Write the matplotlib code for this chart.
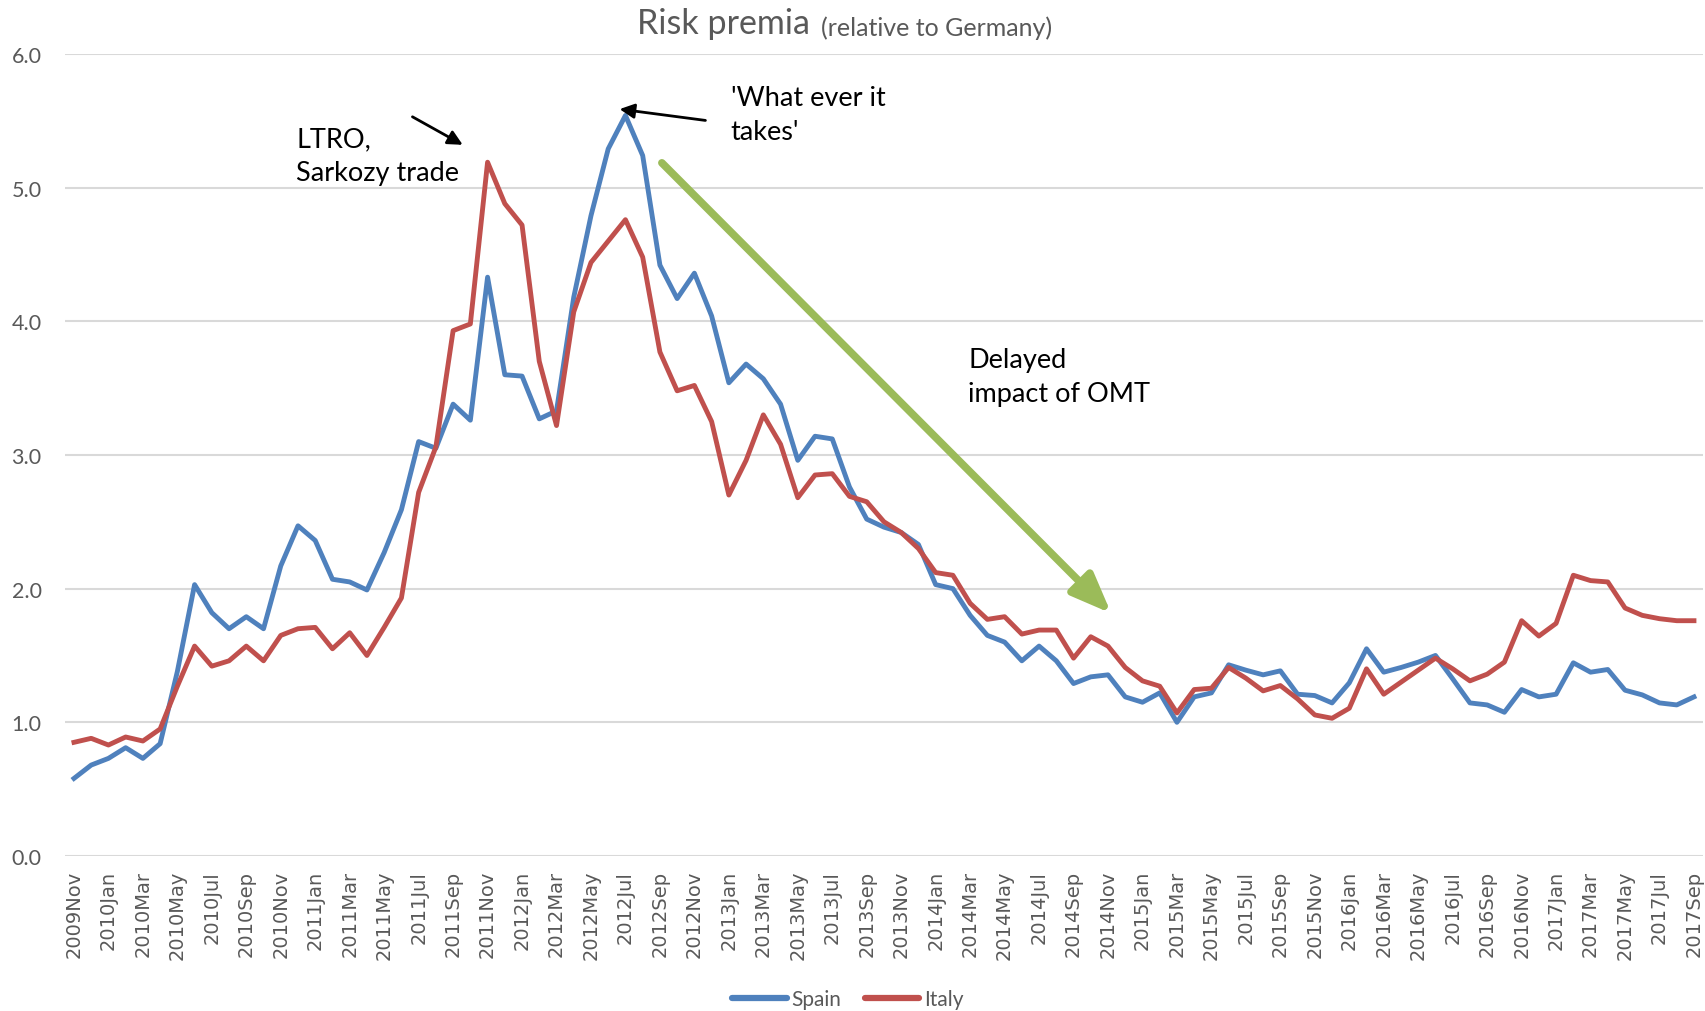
import matplotlib.pyplot as plt
import matplotlib.patheffects as pe
from matplotlib.ticker import FormatStrFormatter
import numpy as np
import pandas as pd

plt.rcParams['font.family'] = ['Lato', 'DejaVu Sans']

# Monatsreihe 2009Nov .. 2017Sep
months = pd.date_range('2009-11-01', '2017-09-01', freq='MS')
month_labels = [d.strftime('%Y%b') for d in months]

spain = [0.58, 0.68, 0.73, 0.81, 0.73, 0.84, 1.38, 2.03, 1.82, 1.70,
         1.79, 1.70, 2.17, 2.47, 2.36, 2.07, 2.05, 1.99, 2.27, 2.59,
         3.10, 3.05, 3.38, 3.26, 4.33, 3.60, 3.59, 3.27, 3.33, 4.18,
         4.79, 5.29, 5.54, 5.24, 4.42, 4.17, 4.36, 4.04, 3.54, 3.68,
         3.57, 3.38, 2.96, 3.14, 3.12, 2.76, 2.52, 2.46, 2.42, 2.33,
         2.03, 2.00, 1.80, 1.65, 1.60, 1.46, 1.57, 1.46, 1.29, 1.34,
         1.355, 1.19, 1.15, 1.22, 1.00, 1.19, 1.22, 1.43, 1.39, 1.355,
         1.385, 1.21, 1.20, 1.145, 1.295, 1.55, 1.375, 1.41, 1.45, 1.50,
         1.325, 1.145, 1.13, 1.075, 1.245, 1.19, 1.21, 1.445, 1.375, 1.395,
         1.24, 1.205, 1.145, 1.13, 1.19]

italy = [0.85, 0.88, 0.83, 0.89, 0.86, 0.95, 1.27, 1.57, 1.42, 1.46,
         1.57, 1.46, 1.65, 1.70, 1.71, 1.55, 1.67, 1.50, 1.71, 1.93,
         2.72, 3.06, 3.93, 3.98, 5.19, 4.88, 4.72, 3.70, 3.22, 4.07,
         4.44, 4.60, 4.76, 4.48, 3.77, 3.48, 3.52, 3.25, 2.70, 2.96,
         3.30, 3.08, 2.68, 2.85, 2.86, 2.69, 2.65, 2.50, 2.42, 2.30,
         2.12, 2.10, 1.89, 1.77, 1.79, 1.66, 1.69, 1.69, 1.48, 1.64,
         1.57, 1.41, 1.31, 1.27, 1.07, 1.245, 1.255, 1.41, 1.33, 1.235,
         1.275, 1.175, 1.055, 1.03, 1.105, 1.40, 1.21, 1.30, 1.39, 1.48,
         1.40, 1.31, 1.36, 1.45, 1.76, 1.645, 1.74, 2.10, 2.06, 2.05,
         1.855, 1.80, 1.775, 1.76, 1.76]

GRAY = '#595959'
BLUE = '#4F81BD'
RED = '#C0504D'
GREEN = '#9BBB59'

fig = plt.figure(figsize=(17.06, 10.12), dpi=100, facecolor='white')
ax = fig.add_axes([0.0383, 0.1532, 0.9597, 0.7925])

x = np.arange(len(month_labels))
ax.plot(x, spain, color=BLUE, lw=3.5, label='Spain', solid_joinstyle='round', zorder=3)
ax.plot(x, italy, color=RED, lw=3.5, label='Italy', solid_joinstyle='round', zorder=3)

ax.set_xlim(-0.5, len(x) - 0.5)
ax.set_ylim(0, 6)
ax.set_yticks(np.arange(0, 7, 1.0))
ax.yaxis.set_major_formatter(FormatStrFormatter('%.1f'))
ax.grid(axis='y', color='#D9D9D9', lw=1.5)
ax.set_axisbelow(True)
for s in ax.spines.values():
    s.set_visible(False)

ax.set_xticks(x[::2])
ax.set_xticklabels(month_labels[::2], rotation=90, fontfamily='DejaVu Sans',
                   fontsize=14, color=GRAY)
ax.tick_params(axis='x', length=0, pad=10)
ax.tick_params(axis='y', length=0, pad=17, labelsize=15.5, labelcolor=GRAY)

# Titel
t1 = fig.text(637 / 1706, 1 - 34 / 1012, 'Risk premia', fontsize=24.5, color=GRAY,
              ha='left', va='baseline')
ax.annotate('(relative to Germany)', xy=(1, 0), xycoords=t1, xytext=(8, 0),
            textcoords='offset points', fontsize=18, color=GRAY, va='bottom')

# Annotationen
ax.text(12.9, 5.46, 'LTRO,\nSarkozy trade', fontsize=19.5, color='black',
        va='top', ha='left', linespacing=1.45)
ax.annotate('', xy=(22.7, 5.31), xytext=(19.5, 5.54),
            arrowprops=dict(arrowstyle='-|>', color='black', lw=2, mutation_scale=22))

ax.text(38.1, 5.77, "'What ever it\ntakes'", fontsize=19.5, color='black',
        va='top', ha='left', linespacing=1.45)
ax.annotate('', xy=(31.5, 5.59), xytext=(36.8, 5.50),
            arrowprops=dict(arrowstyle='-|>', color='black', lw=2, mutation_scale=22))

ax.text(51.9, 3.81, 'Delayed\nimpact of OMT', fontsize=19.5, color='black',
        va='top', ha='left', linespacing=1.45)
ax.annotate('', xy=(60.3, 1.80), xytext=(34.0, 5.20),
            arrowprops=dict(arrowstyle='-|>,head_length=0.8,head_width=0.32',
                            color=GREEN, lw=5.5, mutation_scale=30,
                            path_effects=[pe.withSimplePatchShadow(offset=(2, -2),
                                                                   shadow_rgbFace='#7f7f7f',
                                                                   alpha=0.4)]),
            zorder=4)

leg = fig.legend(loc='center', bbox_to_anchor=(0.497, 0.012), ncol=2, frameon=False,
                 fontsize=15, handlelength=2.6, handletextpad=0.25, columnspacing=1.1,
                 labelcolor=GRAY)
for line in leg.get_lines():
    line.set_linewidth(4.5)
    line.set_solid_capstyle('round')

fig.savefig('out.png', dpi=100, facecolor='white')
